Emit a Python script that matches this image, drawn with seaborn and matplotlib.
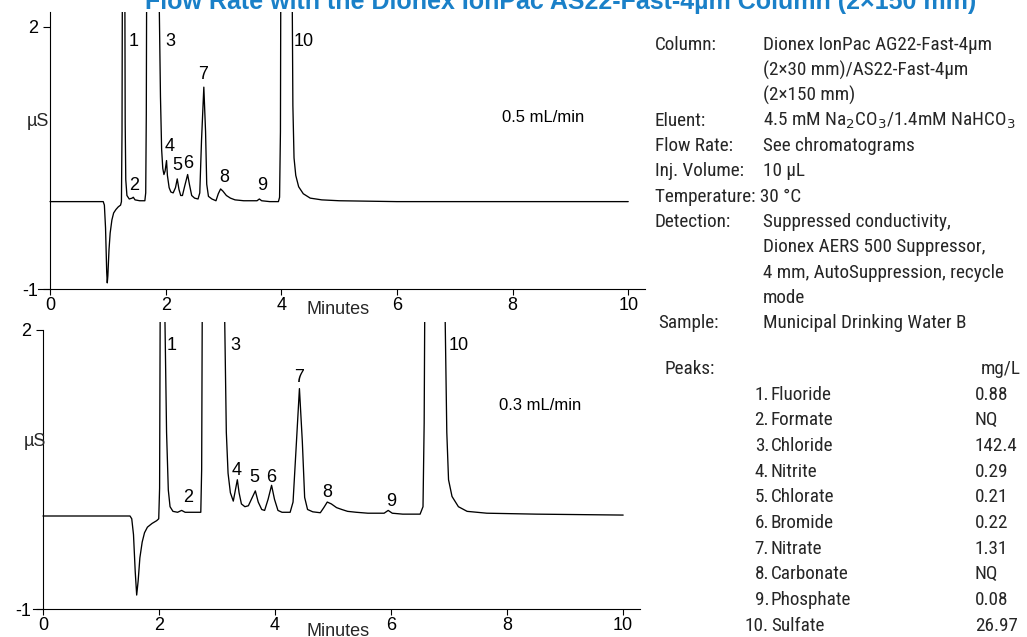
import numpy as np
import pandas as pd
import seaborn as sns
import matplotlib
matplotlib.use("Agg")
import matplotlib.pyplot as plt
from matplotlib import font_manager
from matplotlib.font_manager import FontProperties

# ---------------- data ----------------
# 0.5 mL/min chromatogram: time (min), signal (µS)
t_05 = [0.00, 0.92, 0.94, 0.96, 0.98, 0.99, 1.00, 1.02, 1.04, 1.07, 1.10, 1.14, 1.18, 1.22,
        1.235, 1.245, 1.25, 1.27, 1.295, 1.30, 1.31, 1.33, 1.37, 1.42, 1.44, 1.47, 1.55, 1.64,
        1.655, 1.665, 1.67, 1.78, 1.89, 1.91, 1.93, 1.95, 1.97, 1.99, 2.015, 2.03, 2.06, 2.09,
        2.13, 2.17, 2.20, 2.23, 2.26, 2.29, 2.33, 2.38, 2.41, 2.45, 2.50, 2.56, 2.59, 2.62,
        2.66, 2.69, 2.71, 2.74, 2.80, 2.87, 2.91, 2.95, 2.99, 3.05, 3.12, 3.20, 3.35, 3.58,
        3.62, 3.66, 3.80, 3.95, 3.97, 3.985, 3.99, 4.09, 4.19, 4.20, 4.22, 4.25, 4.30, 4.38,
        4.50, 4.70, 5.00, 6.00, 10.00]
s_05 = [0.00, 0.00, -0.04, -0.30, -0.80, -0.93, -0.85, -0.55, -0.36, -0.21, -0.13, -0.09, -0.06, -0.04,
        0.00, 0.80, 2.20, 6.00, 2.20, 0.90, 0.25, 0.07, 0.03, 0.04, 0.05, 0.02, 0.01, 0.01,
        0.10, 1.00, 2.20, 8.00, 2.20, 1.20, 0.60, 0.38, 0.31, 0.35, 0.47, 0.30, 0.16, 0.11,
        0.10, 0.16, 0.26, 0.14, 0.07, 0.07, 0.18, 0.31, 0.20, 0.07, 0.04, 0.03, 0.10, 0.70,
        1.31, 0.80, 0.20, 0.06, 0.03, 0.01, 0.09, 0.145, 0.12, 0.07, 0.04, 0.02, 0.01, 0.01,
        0.03, 0.01, 0.00, 0.00, 0.05, 0.80, 2.20, 8.00, 2.20, 1.10, 0.50, 0.30, 0.17, 0.09,
        0.04, 0.02, 0.01, 0.00, 0.00]

# 0.3 mL/min chromatogram
t_03 = [0.00, 1.50, 1.53, 1.56, 1.59, 1.615, 1.64, 1.67, 1.71, 1.75, 1.80, 1.88, 1.96, 1.995,
        2.01, 2.02, 2.055, 2.10, 2.13, 2.16, 2.19, 2.24, 2.32, 2.39, 2.45, 2.60, 2.72, 2.735,
        2.745, 2.94, 3.13, 3.16, 3.19, 3.23, 3.28, 3.35, 3.38, 3.42, 3.48, 3.54, 3.60, 3.66,
        3.71, 3.77, 3.82, 3.88, 3.94, 3.99, 4.05, 4.12, 4.26, 4.31, 4.36, 4.42, 4.47, 4.51,
        4.56, 4.65, 4.78, 4.84, 4.90, 4.97, 5.06, 5.15, 5.25, 5.40, 5.60, 5.88, 5.95, 6.02,
        6.20, 6.50, 6.55, 6.57, 6.58, 6.75, 6.93, 6.96, 6.99, 7.05, 7.16, 7.31, 7.65, 8.50, 10.00]
s_03 = [0.00, 0.00, -0.03, -0.20, -0.60, -0.85, -0.70, -0.45, -0.28, -0.18, -0.12, -0.08, -0.05, -0.03,
        0.30, 2.20, 6.00, 2.20, 0.90, 0.28, 0.10, 0.05, 0.04, 0.06, 0.04, 0.04, 0.04, 0.50,
        2.20, 10.0, 2.20, 0.90, 0.46, 0.25, 0.16, 0.39, 0.25, 0.13, 0.10, 0.11, 0.19, 0.27,
        0.15, 0.07, 0.06, 0.18, 0.33, 0.18, 0.06, 0.04, 0.04, 0.15, 0.70, 1.37, 0.80, 0.20,
        0.07, 0.045, 0.035, 0.09, 0.15, 0.13, 0.09, 0.07, 0.05, 0.04, 0.03, 0.03, 0.06, 0.03,
        0.02, 0.02, 0.10, 1.00, 2.20, 10.0, 2.20, 0.90, 0.39, 0.21, 0.10, 0.05, 0.03, 0.02, 0.01]

peak_ids = ["1", "2", "3", "4", "5", "6", "7", "8", "9", "10"]
# peak label anchors (time, µS) for each chromatogram
lab_t_05 = [1.44, 1.45, 2.08, 2.06, 2.20, 2.39, 2.65, 3.01, 3.67, 4.39]
lab_s_05 = [1.83, 0.18, 1.83, 0.63, 0.41, 0.44, 1.46, 0.28, 0.19, 1.83]
lab_t_03 = [2.22, 2.50, 3.31, 3.33, 3.64, 3.93, 4.41, 4.90, 6.00, 7.17]
lab_s_03 = [1.83, 0.20, 1.83, 0.49, 0.41, 0.41, 1.49, 0.25, 0.16, 1.83]

x_ticks = [0, 2, 4, 6, 8, 10]
y_ticks = [-1, 2]

cond_labels = ["Column:", "", "", "Eluent:", "Flow Rate:", "Inj. Volume:", "Temperature: 30 °C",
               "Detection:", "", "", "", "Sample:"]
cond_values = ["Dionex IonPac AG22-Fast-4µm", "(2×30 mm)/AS22-Fast-4µm", "(2×150 mm)",
               r"4.5 mM Na$_{\mathrm{2}}$CO$_{\mathrm{3}}$/1.4mM NaHCO$_{\mathrm{3}}$",
               "See chromatograms", "10 µL", "", "Suppressed conductivity,",
               "Dionex AERS 500 Suppressor,", "4 mm, AutoSuppression, recycle", "mode",
               "Municipal Drinking Water B"]
analytes = ["Fluoride", "Formate", "Chloride", "Nitrite", "Chlorate", "Bromide",
            "Nitrate", "Carbonate", "Phosphate", "Sulfate"]
amounts = ["0.88", "NQ", "142.4", "0.29", "0.21", "0.22", "1.31", "NQ", "0.08", "26.97"]

title = "Flow Rate with the Dionex IonPac AS22-Fast-4µm Column (2×150 mm)"

# ---------------- style ----------------
sns.set_theme(style="ticks")
plt.rcParams["font.family"] = ["Liberation Sans", "DejaVu Sans"]

# pick a narrow/condensed sans font for the conditions block if one is installed
entries = font_manager.fontManager.ttflist
narrow_entry = None
for want in ["Liberation Sans Narrow", "Arial Narrow", "Roboto Condensed",
             "Open Sans Condensed", "Noto Sans Condensed"]:
    for e in entries:
        if e.name == want and e.style == "normal" and str(e.weight) in ("400", "normal", "regular"):
            narrow_entry = e
            break
    if narrow_entry:
        break
if narrow_entry is None:
    for fam in ["Noto Sans", "Open Sans", "DejaVu Sans"]:
        for e in entries:
            if (e.name == fam and e.style == "normal" and str(e.stretch) in ("condensed", "semi-condensed")
                    and str(e.weight) in ("400", "normal", "regular")):
                narrow_entry = e
                break
        if narrow_entry:
            break

if narrow_entry is not None:
    cprop = FontProperties(fname=narrow_entry.fname)
    fs = 14.5 if "Narrow" in narrow_entry.name else 13.8
    plt.rcParams["mathtext.fontset"] = "custom"
    plt.rcParams["mathtext.rm"] = narrow_entry.name + (
        ":stretch=" + str(narrow_entry.stretch) if narrow_entry.stretch != "normal" else "")
    plt.rcParams["mathtext.it"] = plt.rcParams["mathtext.rm"]
else:
    cprop = FontProperties(family="Liberation Sans")
    fs = 13
    plt.rcParams["mathtext.fontset"] = "custom"
    plt.rcParams["mathtext.rm"] = "Liberation Sans"
    plt.rcParams["mathtext.it"] = "Liberation Sans"
cprop.set_size(fs)

W, H = 1027, 637
fig = plt.figure(figsize=(W / 100, H / 100), dpi=100)
fig.patch.set_facecolor("white")


def fx(px):
    return px / W


def fy(py):
    return 1 - py / H


def make_axes(left, right, top, bottom, xlim, ylim, t, s, lt, ls, flow, flow_pos, spine_top):
    ax = fig.add_axes([fx(left), fy(bottom), fx(right - left), (bottom - top) / H])
    ax.set_facecolor("white")
    df = pd.DataFrame({"t": t, "s": s})
    sns.lineplot(data=df, x="t", y="s", ax=ax, color="black", lw=0.95,
                 estimator=None, sort=False)
    ax.set_xlim(*xlim)
    ax.set_ylim(*ylim)
    ax.set_xticks(x_ticks)
    ax.set_xticklabels([str(v) for v in x_ticks])
    ax.set_yticks(y_ticks)
    ax.set_yticklabels([str(v) for v in y_ticks])
    ax.set_xlabel("")
    ax.set_ylabel("")
    for side in ["top", "right"]:
        ax.spines[side].set_visible(False)
    ax.spines["left"].set_position(("data", 0))
    ax.spines["left"].set_bounds(-1, spine_top)
    for side in ["left", "bottom"]:
        ax.spines[side].set_color("black")
        ax.spines[side].set_linewidth(0.8)
    ax.tick_params(axis="x", direction="out", length=4.5, width=0.8, color="black",
                   labelsize=13, pad=1.5, labelcolor="black")
    ax.tick_params(axis="y", direction="out", length=5, width=0.8, color="black",
                   labelsize=13, pad=3.5, labelcolor="black")
    for pid, x, y in zip(peak_ids, lt, ls):
        ax.text(x, y, pid, fontsize=13, ha="center", va="center", color="black")
    ax.text(flow_pos[0], flow_pos[1], flow, fontsize=12, ha="center", va="center",
            color="black")
    return ax


ax1 = make_axes(38, 645, 12, 289, (-0.208, 10.29), (-1, 2.17), t_05, s_05,
                lab_t_05, lab_s_05, "0.5 mL/min", (8.53, 0.96), 2.17)
ax2 = make_axes(33, 640, 322, 609, (-0.172, 10.29), (-1, 2.086), t_03, s_03,
                lab_t_03, lab_s_03, "0.3 mL/min", (8.57, 1.19), 2.0)

# axis titles
fig.text(fx(38), fy(122), "µS", fontsize=13, ha="center", va="center")
fig.text(fx(35), fy(442), "µS", fontsize=13, ha="center", va="center")
fig.text(fx(338), fy(309), "Minutes", fontsize=13, ha="center", va="center")
fig.text(fx(338), fy(632), "Minutes", fontsize=13, ha="center", va="center")

# title (top partially cut off, as in reference)
fig.text(fx(561), fy(9.5), title, fontsize=18, fontweight="bold", color="#1a80c8",
         ha="center", va="baseline")

# conditions block
y0, dy = 45, 25.3
for i, (lab, val) in enumerate(zip(cond_labels, cond_values)):
    yy = y0 + i * dy
    lx = 658 if lab == "Sample:" else 655
    if lab:
        fig.text(fx(lx), fy(yy), lab, fontproperties=cprop, ha="left", va="center")
    if val:
        fig.text(fx(763), fy(yy), val, fontproperties=cprop, ha="left", va="center")

fig.text(fx(664), fy(369), "Peaks:", fontproperties=cprop, ha="left", va="center")
fig.text(fx(1021), fy(369), "mg/L", fontproperties=cprop, ha="right", va="center")
for i, (name, amt) in enumerate(zip(analytes, amounts)):
    yy = 394.5 + i * 25.7
    fig.text(fx(769), fy(yy), f"{i + 1}.", fontproperties=cprop, ha="right", va="center")
    fig.text(fx(771), fy(yy), name, fontproperties=cprop, ha="left", va="center")
    fig.text(fx(975), fy(yy), amt, fontproperties=cprop, ha="left", va="center")

fig.savefig("out.png", dpi=100, facecolor="white")
